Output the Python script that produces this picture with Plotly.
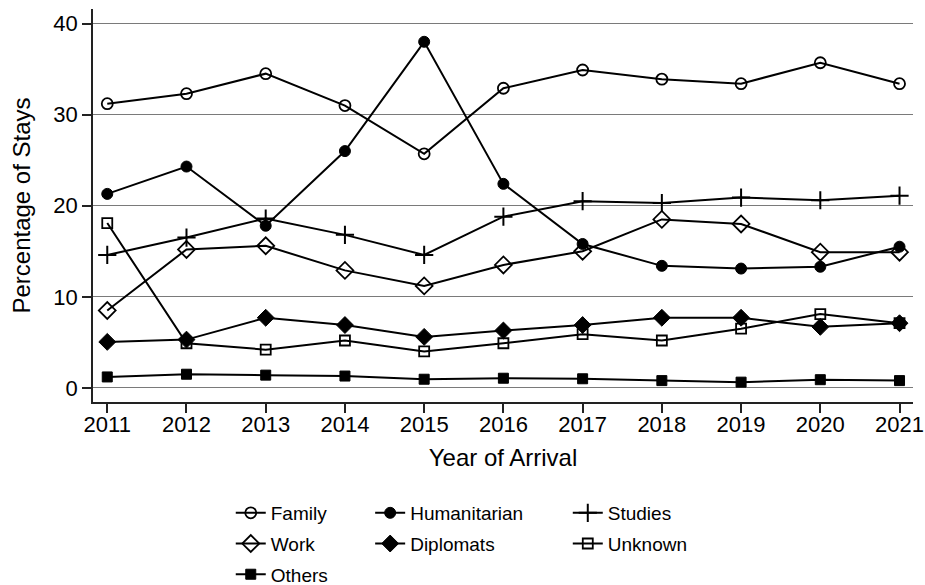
import plotly.graph_objects as go

years = [2011, 2012, 2013, 2014, 2015, 2016, 2017, 2018, 2019, 2020, 2021]
family = [31.2, 32.3, 34.5, 31.0, 25.7, 32.9, 34.9, 33.9, 33.4, 35.7, 33.4]
humanitarian = [21.3, 24.3, 17.8, 26.0, 38.0, 22.4, 15.8, 13.4, 13.1, 13.3, 15.5]
studies = [14.6, 16.5, 18.6, 16.8, 14.6, 18.8, 20.5, 20.3, 20.9, 20.6, 21.1]
work = [8.5, 15.2, 15.6, 12.9, 11.2, 13.5, 15.0, 18.5, 18.0, 14.9, 14.9]
diplomats = [5.05, 5.3, 7.7, 6.9, 5.6, 6.3, 6.9, 7.7, 7.7, 6.7, 7.1]
unknown = [18.1, 4.9, 4.2, 5.2, 4.0, 4.9, 5.9, 5.2, 6.5, 8.1, 7.1]
others = [1.2, 1.5, 1.4, 1.3, 0.95, 1.06, 1.0, 0.8, 0.63, 0.9, 0.8]

yticks = [0, 10, 20, 30, 40]

# name, values, symbol, size, marker line width, legend
series = [
    ("Family", family, "circle-open", 11, 1.8, "legend"),
    ("Humanitarian", humanitarian, "circle", 11, 1, "legend2"),
    ("Studies", studies, "cross-thin", 13, 2, "legend3"),
    ("Work", work, "diamond-open", 13, 1.8, "legend"),
    ("Diplomats", diplomats, "diamond", 13, 1, "legend2"),
    ("Unknown", unknown, "square-open", 10, 1.8, "legend3"),
    ("Others", others, "square", 10, 1, "legend"),
]

fig = go.Figure()
for name, vals, sym, size, mlw, leg in series:
    fig.add_trace(go.Scatter(
        x=years, y=vals, name=name, mode="lines+markers",
        line=dict(color="black", width=2),
        marker=dict(symbol=sym, size=size, color="black",
                    line=dict(color="black", width=mlw)),
        legend=leg, legendgroup=name,
    ))

font_family = "Liberation Sans, Arial, sans-serif"
legend_common = dict(
    orientation="v", yanchor="top", xanchor="left",
    xref="paper", yref="container",
    font=dict(family=font_family, size=19, color="black"),
    bgcolor="rgba(0,0,0,0)", tracegroupgap=3,
    traceorder="grouped",
)
leg_y = 0.1556

fig.update_layout(
    width=925, height=585,
    margin=dict(l=93, r=12, t=9, b=183, autoexpand=False),
    paper_bgcolor="white", plot_bgcolor="white",
    font=dict(family=font_family, color="black"),
    xaxis=dict(
        range=[2010.82, 2021.17], tickmode="array", tickvals=years,
        ticks="outside", ticklen=9, tickwidth=1.5, tickcolor="#222",
        showline=True, linecolor="#222", linewidth=1.5,
        showgrid=False, zeroline=False, automargin=False,
        ticklabelstandoff=-7,
        tickfont=dict(size=22, color="black"),
        title=dict(text="Year of Arrival", font=dict(size=24, color="black"), standoff=13),
    ),
    yaxis=dict(
        range=[-1.55, 41.6], tickmode="array", tickvals=yticks,
        ticks="outside", ticklen=9, tickwidth=1.5, tickcolor="#222",
        showline=True, linecolor="#222", linewidth=1.5,
        showgrid=True, gridcolor="#7a7a7a", gridwidth=1.3, zeroline=False,
        automargin=False,
        tickfont=dict(size=22, color="black"),
        title=dict(text="Percentage of Stays", font=dict(size=24, color="black"), standoff=16),
    ),
    legend=dict(x=0.168, y=leg_y, **legend_common),
    legend2=dict(x=0.338, y=leg_y, **legend_common),
    legend3=dict(x=0.579, y=leg_y, **legend_common),
    showlegend=True,
)

fig.write_html(
    "out.html",
    config={"displayModeBar": False},
    post_script="document.body.style.margin='0';document.body.style.overflow='hidden';",
)
